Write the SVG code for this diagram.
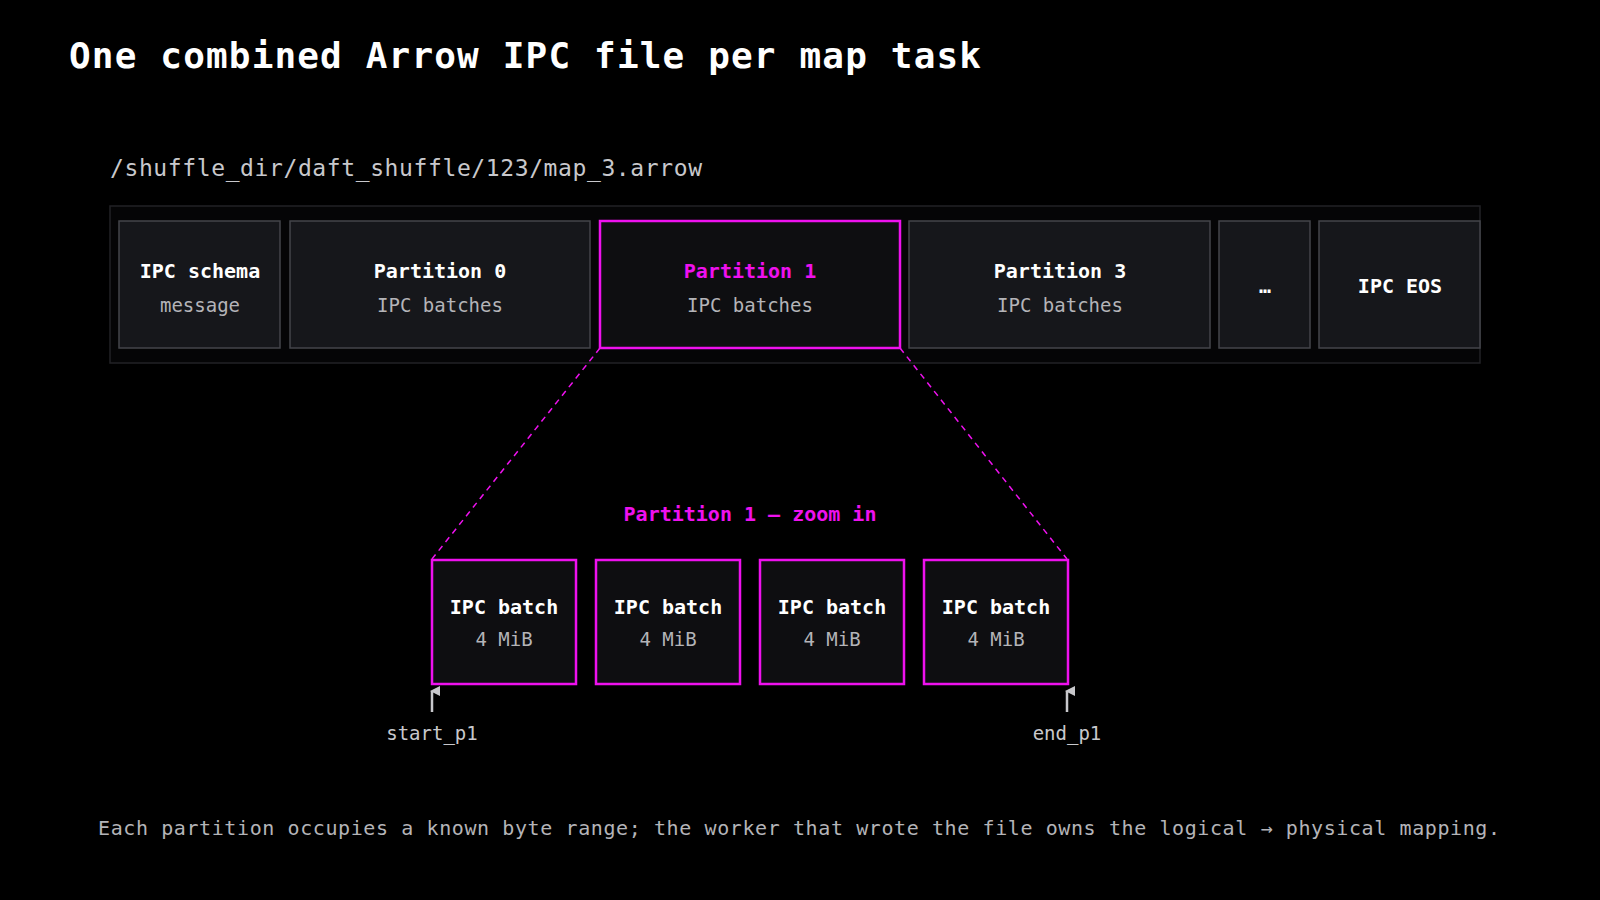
<svg xmlns="http://www.w3.org/2000/svg" width="1600" height="900" viewBox="0 0 1600 900">
<style>
text{font-family:"DejaVu Sans Mono","Liberation Mono",monospace;text-anchor:middle}
.b{fill:#16171b;stroke:#44454b;stroke-width:1.5}
.m{fill:#0e0e11;stroke:#ee11ee;stroke-width:2.5}
.t{fill:#fff;font-weight:bold;font-size:20px}
.s{fill:#b4b4b8;font-size:19px}
.mt{fill:#ee11ee;font-weight:bold;font-size:20px}
.g{fill:#c8c8cc;font-size:19px}
</style>
<defs><marker id="ah" viewBox="0 0 10 10" refX="5" refY="2" markerWidth="10" markerHeight="10" markerUnits="userSpaceOnUse" orient="auto-start-reverse"><path d="M0,10 L5,0 L10,10 Z" fill="#c8c8cc"/></marker></defs>
<rect width="1600" height="900" fill="#000"/>
<text x="69" y="68" style="text-anchor:start;fill:#fff;font-weight:bold;font-size:36px" textLength="912">One combined Arrow IPC file per map task</text>
<text x="110" y="176" style="text-anchor:start;fill:#c8c8cc;font-size:23px" textLength="592">/shuffle_dir/daft_shuffle/123/map_3.arrow</text>
<rect x="110" y="206" width="1370" height="157" fill="#050506" stroke="#222226" stroke-width="1.5"/>
<g id="schema"><rect class="b" x="119" y="221" width="161" height="127"/><text class="t" x="200" y="278">IPC schema</text><text class="s" x="200" y="312">message</text></g>
<g id="p0"><rect class="b" x="290" y="221" width="300" height="127"/><text class="t" x="440" y="278">Partition 0</text><text class="s" x="440" y="312">IPC batches</text></g>
<g id="p1"><rect class="m" x="600" y="221" width="300" height="127"/><text class="mt" x="750" y="278">Partition 1</text><text class="s" x="750" y="312">IPC batches</text></g>
<g id="p3"><rect class="b" x="909" y="221" width="301" height="127"/><text class="t" x="1060" y="278">Partition 3</text><text class="s" x="1060" y="312">IPC batches</text></g>
<g id="dots"><rect class="b" x="1219" y="221" width="91" height="127"/><text class="t" x="1265" y="293">…</text></g>
<g id="eos"><rect class="b" x="1319" y="221" width="161" height="127"/><text class="t" x="1400" y="293">IPC EOS</text></g>
<g id="connectors" stroke-width="1.5" fill="none">
<path d="M600,348 L432,559 M900,348 L1067,559" stroke="#ee11ee" stroke-dasharray="6,5"/>
<path d="M432,712 L432,691" stroke="#c8c8cc" stroke-width="2.5" marker-end="url(#ah)"/>
<path d="M1067,712 L1067,691" stroke="#c8c8cc" stroke-width="2.5" marker-end="url(#ah)"/>
</g>
<text class="mt" x="750" y="521">Partition 1 — zoom in</text>
<g id="b1"><rect class="m" x="432" y="560" width="144" height="124"/><text class="t" x="504" y="614">IPC batch</text><text class="s" x="504" y="646">4 MiB</text></g>
<g id="b2"><rect class="m" x="596" y="560" width="144" height="124"/><text class="t" x="668" y="614">IPC batch</text><text class="s" x="668" y="646">4 MiB</text></g>
<g id="b3"><rect class="m" x="760" y="560" width="144" height="124"/><text class="t" x="832" y="614">IPC batch</text><text class="s" x="832" y="646">4 MiB</text></g>
<g id="b4"><rect class="m" x="924" y="560" width="144" height="124"/><text class="t" x="996" y="614">IPC batch</text><text class="s" x="996" y="646">4 MiB</text></g>
<text class="g" x="432" y="740">start_p1</text>
<text class="g" x="1067" y="740">end_p1</text>
<text x="799" y="835" style="fill:#b4b4b8;font-size:20px" textLength="1402">Each partition occupies a known byte range; the worker that wrote the file owns the logical → physical mapping.</text>
</svg>
